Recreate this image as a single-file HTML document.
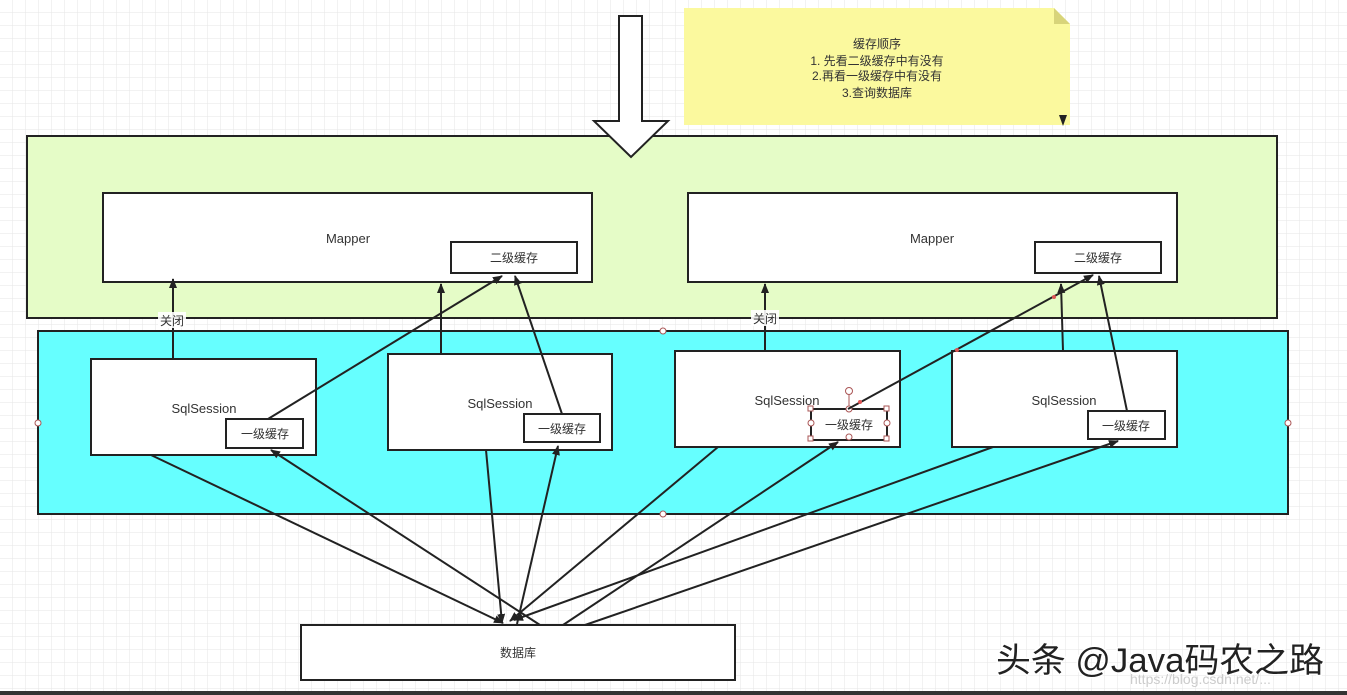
<!DOCTYPE html>
<html><head><meta charset="utf-8"><style>
html,body{margin:0;padding:0;background:#fff;}
svg{display:block;}
text{font-family:"Liberation Sans","Noto Sans CJK SC",sans-serif;fill:#333;}
</style></head><body>
<svg width="1347" height="695" viewBox="0 0 1347 695" xmlns="http://www.w3.org/2000/svg">
<defs>
<pattern id="g" width="13" height="13" patternUnits="userSpaceOnUse">
<path d="M13 0V13H0" fill="none" stroke="#e6e6e6" stroke-width="1"/>
</pattern>
<marker id="b" viewBox="0 0 10 10" refX="9" refY="5" markerWidth="10" markerHeight="10" orient="auto" markerUnits="userSpaceOnUse">
<path d="M0 1L10 5L0 9z" fill="#222"/>
</marker>
</defs>
<rect width="1347" height="695" fill="#fff"/>
<rect width="1347" height="695" fill="url(#g)"/>
<rect x="0" y="691" width="1347" height="4" fill="#333"/>

<!-- note -->
<path d="M684 8H1054L1070 24V125H684Z" fill="#fbf99e"/>
<path d="M1054 8V24H1070Z" fill="#d8d47a"/>
<path d="M1059 115L1067 115L1063 126Z" fill="#222"/>
<g font-size="12" text-anchor="middle">
<text x="877" y="48">缓存顺序</text>
<text x="877" y="65">1. 先看二级缓存中有没有</text>
<text x="877" y="80">2.再看一级缓存中有没有</text>
<text x="877" y="97">3.查询数据库</text>
</g>

<!-- green -->
<rect x="27" y="136" width="1250" height="182" fill="#e5fcc7" stroke="#222" stroke-width="2"/>
<path d="M619 16H642V121H668L631 157L594 121H619Z" fill="#fff" stroke="#222" stroke-width="2"/>

<rect x="103" y="193" width="489" height="89" fill="#fff" stroke="#222" stroke-width="2"/>
<text x="348" y="243" font-size="13" text-anchor="middle">Mapper</text>
<rect x="451" y="242" width="126" height="31" fill="#fff" stroke="#222" stroke-width="2"/>
<text x="514" y="262" font-size="12" text-anchor="middle">二级缓存</text>

<rect x="688" y="193" width="489" height="89" fill="#fff" stroke="#222" stroke-width="2"/>
<text x="932" y="243" font-size="13" text-anchor="middle">Mapper</text>
<rect x="1035" y="242" width="126" height="31" fill="#fff" stroke="#222" stroke-width="2"/>
<text x="1098" y="262" font-size="12" text-anchor="middle">二级缓存</text>

<!-- cyan -->
<rect x="38" y="331" width="1250" height="183" fill="#66ffff" stroke="#222" stroke-width="2"/>
<g fill="#fff" stroke="#a55" stroke-width="1">
<circle cx="663" cy="331" r="3"/><circle cx="663" cy="514" r="3"/>
<circle cx="38" cy="423" r="3"/><circle cx="1288" cy="423" r="3"/>
</g>

<g fill="#fff" stroke="#222" stroke-width="2">
<rect x="91" y="359" width="225" height="96"/>
<rect x="226" y="419" width="77" height="29"/>
<rect x="388" y="354" width="224" height="96"/>
<rect x="524" y="414" width="76" height="28"/>
<rect x="675" y="351" width="225" height="96"/>
<rect x="811" y="409" width="76" height="31"/>
<rect x="952" y="351" width="225" height="96"/>
<rect x="1088" y="411" width="77" height="28"/>
</g>
<g font-size="13" text-anchor="middle">
<text x="204" y="413">SqlSession</text>
<text x="500" y="408">SqlSession</text>
<text x="787" y="405">SqlSession</text>
<text x="1064" y="405">SqlSession</text>
</g>
<g font-size="12" text-anchor="middle">
<text x="265" y="438">一级缓存</text>
<text x="562" y="433">一级缓存</text>
<text x="849" y="429">一级缓存</text>
<text x="1126" y="430">一级缓存</text>
</g>
<g fill="#fff" stroke="#a55" stroke-width="1">
<line x1="849" y1="393" x2="849" y2="409"/>
<circle cx="849" cy="391" r="3.5"/>
<circle cx="849" cy="409" r="3"/><circle cx="849" cy="437" r="3"/>
<circle cx="811" cy="423" r="3"/><circle cx="887" cy="423" r="3"/>
<rect x="808" y="406" width="5" height="5"/><rect x="884" y="406" width="5" height="5"/>
<rect x="808" y="436" width="5" height="5"/><rect x="884" y="436" width="5" height="5"/>
</g>

<rect x="301" y="625" width="434" height="55" fill="#fff" stroke="#222" stroke-width="2"/>
<text x="518" y="657" font-size="12" text-anchor="middle">数据库</text>

<g stroke="#222" stroke-width="2" fill="none" marker-end="url(#b)">
<line x1="173" y1="359" x2="173" y2="279"/>
<line x1="441" y1="354" x2="441" y2="284"/>
<line x1="268" y1="419" x2="502" y2="276"/>
<line x1="562" y1="414" x2="515" y2="276"/>
<line x1="765" y1="351" x2="765" y2="284"/>
<line x1="848" y1="409" x2="1093" y2="275"/>
<line x1="1063" y1="351" x2="1061" y2="284"/>
<line x1="1127" y1="411" x2="1099" y2="276"/>
<line x1="151" y1="455" x2="503" y2="623"/>
<line x1="486" y1="450" x2="502" y2="623"/>
<line x1="718" y1="447" x2="510" y2="621"/>
<line x1="993" y1="447" x2="514" y2="620"/>
<line x1="540" y1="625" x2="271" y2="450"/>
<line x1="517" y1="624" x2="558" y2="446"/>
<line x1="563" y1="625" x2="838" y2="442"/>
<line x1="585" y1="625" x2="1118" y2="441"/>
</g>
<rect x="158" y="312" width="28" height="16" fill="#fff" opacity="0.9"/>
<text x="172" y="325" font-size="12" text-anchor="middle">关闭</text>
<rect x="751" y="310" width="28" height="16" fill="#fff" opacity="0.9"/>
<text x="765" y="323" font-size="12" text-anchor="middle">关闭</text>
<g fill="#d55"><circle cx="1054" cy="297" r="2"/><circle cx="957" cy="350" r="2"/><circle cx="860" cy="402" r="2"/></g>

<text x="996" y="672" font-size="34" textLength="328" lengthAdjust="spacingAndGlyphs" style="fill:#fff" stroke="#fff" stroke-width="3">头条 @Java码农之路</text>
<text x="996" y="672" font-size="34" textLength="328" lengthAdjust="spacingAndGlyphs" style="fill:#222">头条 @Java码农之路</text>
<text x="1130" y="684" font-size="14" style="fill:#ccc">https://blog.csdn.net/...</text>
</svg>
</body></html>
